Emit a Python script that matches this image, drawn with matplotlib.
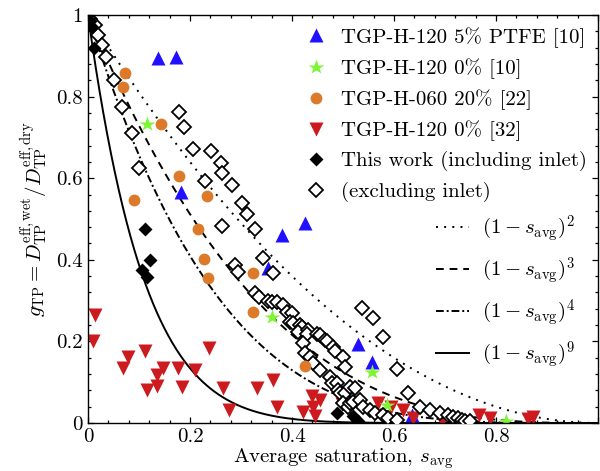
import numpy as np
import matplotlib
matplotlib.use("Agg")
import matplotlib.pyplot as plt
from matplotlib.ticker import MultipleLocator

plt.rcParams['font.family'] = 'serif'
plt.rcParams['font.serif'] = ['cmr10']
plt.rcParams['mathtext.fontset'] = 'cm'
plt.rcParams['axes.unicode_minus'] = False
plt.rcParams['axes.formatter.use_mathtext'] = True

# ---- data ----
blue_x = [0.137, 0.173, 0.183, 0.353, 0.38, 0.425, 0.53, 0.557, 0.635]
blue_y = [0.895, 0.897, 0.566, 0.38, 0.46, 0.49, 0.193, 0.15, 0.02]

green_x = [0.115, 0.36, 0.557, 0.586, 0.82]
green_y = [0.733, 0.26, 0.125, 0.044, 0.005]

orange_x = [0.073, 0.068, 0.143, 0.179, 0.233, 0.09, 0.216, 0.227, 0.236, 0.324, 0.324, 0.425]
orange_y = [0.858, 0.824, 0.733, 0.605, 0.556, 0.547, 0.475, 0.402, 0.355, 0.367, 0.272, 0.14]

red_x = [0.014, 0.009, 0.079, 0.112, 0.068, 0.148, 0.135, 0.115, 0.136, 0.177, 0.184,
         0.21, 0.238, 0.265, 0.277, 0.331, 0.362, 0.371, 0.422, 0.439, 0.455, 0.441,
         0.445, 0.498, 0.569, 0.594, 0.617, 0.637, 0.694, 0.767, 0.788, 0.863, 0.872]
red_y = [0.265, 0.2, 0.162, 0.177, 0.135, 0.135, 0.118, 0.08, 0.09, 0.135, 0.089,
         0.131, 0.183, 0.086, 0.031, 0.085, 0.105, 0.04, 0.026, 0.066, 0.056, 0.04,
         0.017, 0.046, 0.05, 0.04, 0.033, 0.012, 0.004, 0.02, 0.012, 0.009, 0.014]

incl_x = [0.0, 0.004, 0.008, 0.012, 0.112, 0.122, 0.105, 0.115, 0.488, 0.52, 0.53]
incl_y = [1.0, 0.985, 0.97, 0.92, 0.475, 0.40, 0.375, 0.358, 0.024, 0.018, 0.004]

excl_x = [0.004, 0.014, 0.02, 0.027, 0.035, 0.05, 0.066, 0.087, 0.1,
          0.178, 0.189, 0.205, 0.241, 0.26, 0.263, 0.229, 0.282, 0.301, 0.311, 0.262,
          0.328, 0.343, 0.363, 0.288, 0.294,
          0.327, 0.336, 0.353, 0.36, 0.37, 0.383, 0.391, 0.4, 0.396, 0.402, 0.416,
          0.419, 0.412, 0.432, 0.429, 0.449, 0.455, 0.465, 0.468, 0.48, 0.484, 0.5,
          0.504, 0.422, 0.425, 0.435, 0.441, 0.455, 0.475, 0.478, 0.488, 0.49, 0.494,
          0.504, 0.514, 0.524, 0.5, 0.51, 0.514, 0.52, 0.533, 0.539, 0.553, 0.563,
          0.578, 0.588, 0.606,
          0.537, 0.558, 0.579, 0.605, 0.627, 0.65, 0.67, 0.69, 0.706, 0.716, 0.725,
          0.733, 0.739, 0.749]
excl_y = [0.99, 0.975, 0.95, 0.926, 0.898, 0.84, 0.775, 0.71, 0.624,
          0.762, 0.726, 0.671, 0.667, 0.638, 0.612, 0.593, 0.583, 0.538, 0.512, 0.483,
          0.475, 0.405, 0.368, 0.387, 0.37,
          0.319, 0.31, 0.30, 0.297, 0.297, 0.288, 0.272, 0.27, 0.248, 0.245, 0.24,
          0.235, 0.222, 0.228, 0.219, 0.218, 0.215, 0.203, 0.2, 0.186, 0.176, 0.162,
          0.137, 0.196, 0.172, 0.162, 0.147, 0.13, 0.113, 0.098, 0.098, 0.081, 0.073,
          0.073, 0.088, 0.086, 0.049, 0.04, 0.049, 0.051, 0.056, 0.04, 0.032, 0.024,
          0.02, 0.012, 0.007,
          0.282, 0.257, 0.211, 0.133, 0.073, 0.04, 0.033, 0.024, 0.02, 0.015, 0.012,
          0.007, 0.004, 0.005]

exponents = [2, 3, 4, 9]
x_ticks = [0, 0.2, 0.4, 0.6, 0.8, 1.0]
x_tick_labels = ["0", "0.2", "0.4", "0.6", "0.8", ""]
y_ticks = [0, 0.2, 0.4, 0.6, 0.8, 1.0]
y_tick_labels = ["0", "0.2", "0.4", "0.6", "0.8", "1"]

labels_markers = ["TGP-H-120 5% PTFE [10]", "TGP-H-120 0% [10]", "TGP-H-060 20% [22]",
                  "TGP-H-120 0% [32]", "This work (including inlet)", "(excluding inlet)"]

# ---- figure ----
fig = plt.figure(figsize=(6.0, 4.71), dpi=100)
ax = fig.add_axes([88/600, 48/471, 510/600, 408/471])

s = np.linspace(0, 1, 400)
styles = [(0, (1, 3.2)), (0, (4, 3)), (0, (4, 1.5, 1, 1.5)), '-']
line_handles = []
for n, ls in zip(exponents, styles):
    h, = ax.plot(s, (1 - s) ** n, color='black', lw=1.4, ls=ls, zorder=1)
    line_handles.append(h)

hb, = ax.plot(blue_x, blue_y, ls='none', marker='^', ms=10, color='#2010ff', mec='none', zorder=2)
hg, = ax.plot(green_x, green_y, ls='none', marker='*', ms=11.5, color='#7cf534', mec='none', zorder=2.5)
ho, = ax.plot(orange_x, orange_y, ls='none', marker='o', ms=8.5, color='#dc7a2a', mec='none', zorder=4)
hr, = ax.plot(red_x, red_y, ls='none', marker='v', ms=10, color='#cc1a1e', mec='none', zorder=2)
hk, = ax.plot(incl_x, incl_y, ls='none', marker='D', ms=7.5, color='black', mec='none', zorder=5)
he, = ax.plot(excl_x, excl_y, ls='none', marker='D', ms=6.8, mfc='white', mec='black', mew=1.3, zorder=3)

ax.set_xlim(0, 1)
ax.set_ylim(0, 1)
ax.set_xticks(x_ticks)
ax.set_xticklabels(x_tick_labels)
ax.set_yticks(y_ticks)
ax.set_yticklabels(y_tick_labels)
ax.xaxis.set_minor_locator(MultipleLocator(0.04))
ax.yaxis.set_minor_locator(MultipleLocator(0.04))
ax.tick_params(which='both', direction='in', top=True, right=True, labelsize=15, width=0.9)
ax.tick_params(which='major', length=4.5, pad=4)
ax.tick_params(which='minor', length=2.5)
for sp in ax.spines.values():
    sp.set_linewidth(1.0)

ax.set_xlabel(r"Average saturation, $s_{\rm avg}$", fontsize=15, labelpad=0)
ax.set_ylabel(r"$g_{\rm TP} = D_{\rm TP}^{\rm eff,wet}/D_{\rm TP}^{\rm eff,dry}$", fontsize=15, labelpad=4)

leg1 = fig.legend([hb, hg, ho, hr, hk, he], labels_markers, loc='upper left',
                  bbox_to_anchor=(306/600, 1 - 27/471), frameon=False, fontsize=15,
                  handlelength=1.0, handletextpad=0.7, labelspacing=0.5,
                  borderpad=0, borderaxespad=0)
line_labels = [r"$(1 - s_{\rm avg})^{%d}$" % n for n in exponents]
leg2 = fig.legend(line_handles, line_labels, loc='upper left',
                  bbox_to_anchor=(436/600, 1 - 213/471), frameon=False, fontsize=15,
                  handlelength=1.6, handletextpad=0.6, labelspacing=0.53,
                  borderpad=0, borderaxespad=0)

fig.savefig("out.png", dpi=100)
